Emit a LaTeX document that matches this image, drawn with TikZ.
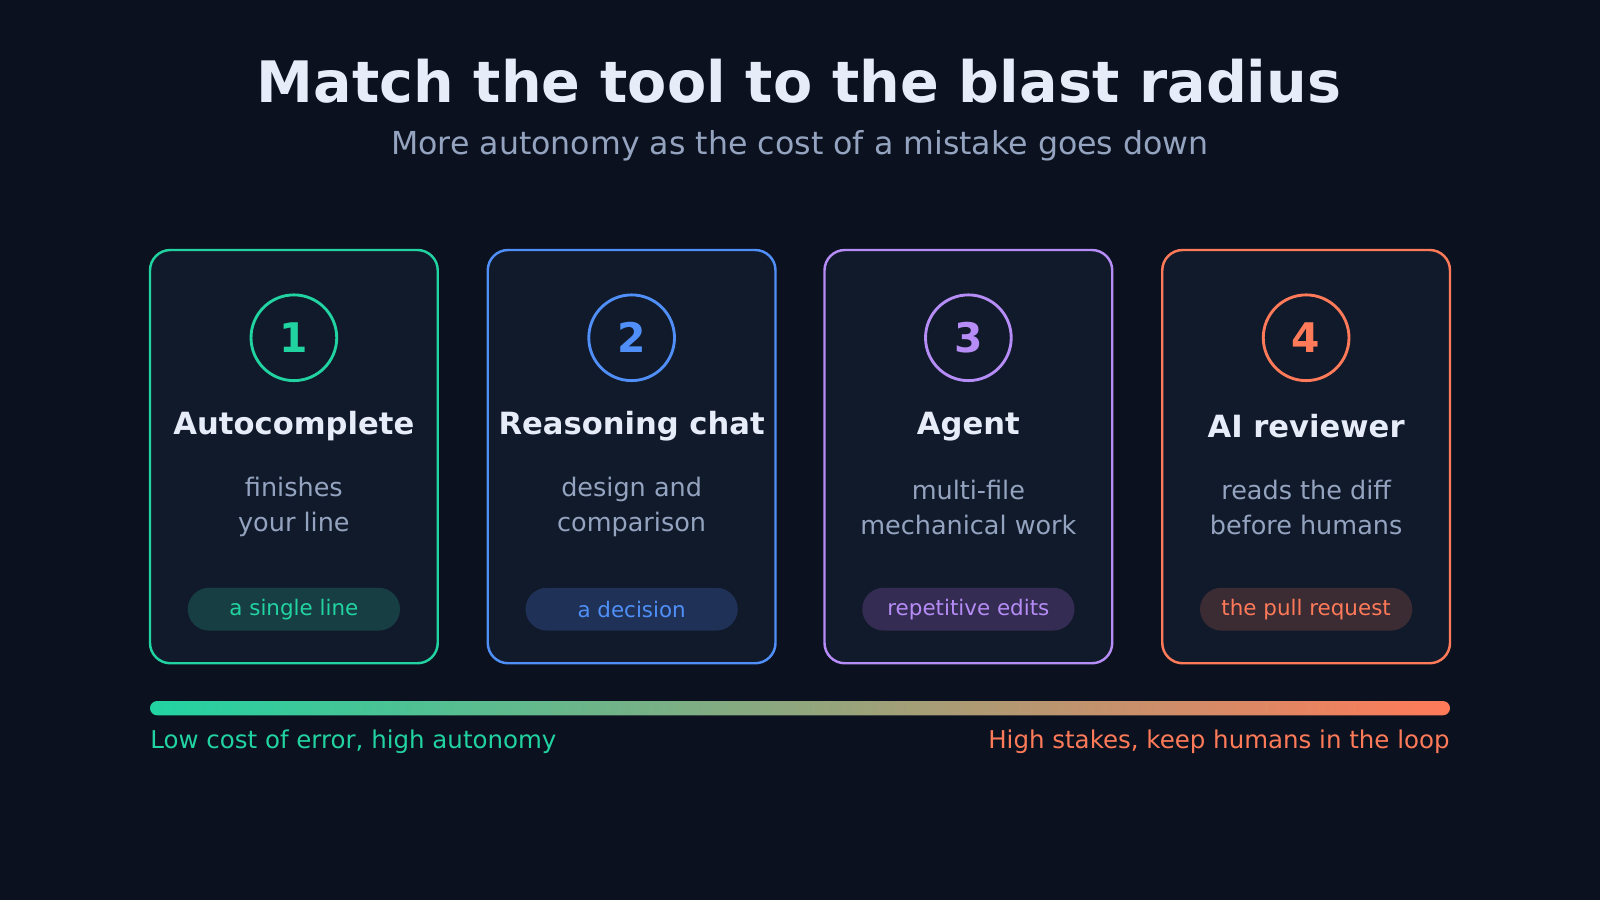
\documentclass[tikz,border=0pt]{standalone}
\usepackage{fontspec}
\setmainfont{DejaVu Sans}
\begin{document}
\definecolor{bg}{HTML}{0B111E}
\definecolor{card}{HTML}{111A2B}
\definecolor{ttl}{HTML}{E6ECF8}
\definecolor{sub}{HTML}{94A3BF}
\definecolor{cA}{HTML}{22D3A2}\definecolor{pA}{HTML}{173E42}
\definecolor{cB}{HTML}{4F8FF7}\definecolor{pB}{HTML}{1F3157}
\definecolor{cC}{HTML}{B68CF6}\definecolor{pC}{HTML}{342C52}
\definecolor{cD}{HTML}{FF7A59}\definecolor{pD}{HTML}{3B2B33}
\begin{tikzpicture}[x=0.5pt,y=-0.5pt,
  cardbox/.style={draw=#1,line width=1.2pt,fill=card,rounded corners=10pt},
  num/.style={circle,draw=#1,line width=1.4pt,minimum size=42pt,inner sep=0,text=#1,font=\bfseries\fontsize{20}{24}\selectfont},
  head/.style={text=ttl,font=\bfseries\fontsize{15}{18}\selectfont},
  desc/.style={text=sub,font=\fontsize{12.5}{17}\selectfont,align=center},
  pill/.style={fill=#1,rounded corners=10.5pt,minimum width=104pt,minimum height=21pt,inner sep=0},
  ptext/.style={text=#1,font=\fontsize{10.5}{12}\selectfont}]
\fill[bg] (0,0) rectangle (1568,882);
\useasboundingbox (0,0) rectangle (1568,882);
\node[text=ttl,font=\bfseries\fontsize{28}{32}\selectfont] (title) at (783,80) {Match the tool to the blast radius};
\node[text=sub,font=\fontsize{15.5}{18}\selectfont] (subtitle) at (784,143) {More autonomy as the cost of a mistake goes down};
\foreach \i/\x/\c/\p/\h/\da/\db/\t in {
  1/288/cA/pA/Autocomplete/finishes/your line/a single line,
  2/619/cB/pB/Reasoning chat/design and/comparison/a decision,
  3/949/cC/pC/Agent/multi-file/mechanical work/repetitive edits,
  4/1280/cD/pD/AI reviewer/reads the diff/before humans/the pull request}{
  \draw[cardbox=\c] (\x-141,245) rectangle (\x+141,650);
  \node[num=\c] (n\i) at (\x,331) {\i};
  \node[head] (h\i) at (\x,418) {\h};
  \node[desc] (d\i) at (\x,497) {\da\\\db};
  \node[pill=\p] (p\i) at (\x,597) {};
  \node[ptext=\c] (t\i) at (\x,597) {\t};
}
\shade[left color=cA,right color=cD,rounded corners=3.5pt] (147,687) rectangle (1421,701);
\node[anchor=west,inner sep=0,text=cA,font=\fontsize{12}{14}\selectfont] (lo) at (147,727) {Low cost of error, high autonomy};
\node[anchor=east,inner sep=0,text=cD,font=\fontsize{12}{14}\selectfont] (hi) at (1421,727) {High stakes, keep humans in the loop};
\end{tikzpicture}
\end{document}
